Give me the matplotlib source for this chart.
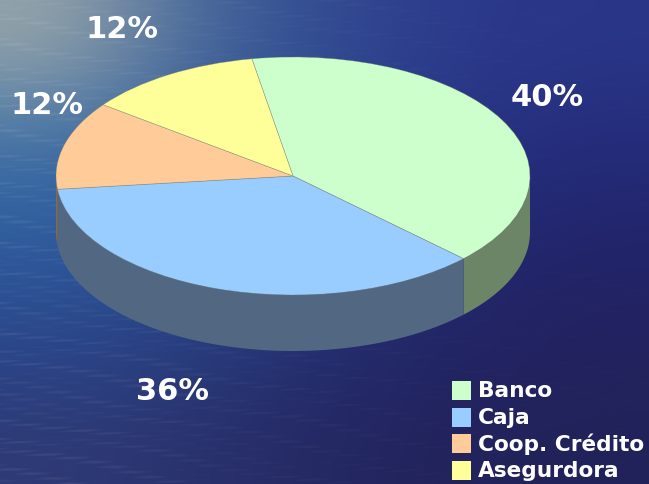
import numpy as np
import matplotlib
matplotlib.use("Agg")
import matplotlib.pyplot as plt
from matplotlib.patches import Polygon, Rectangle

labels = ["Banco", "Caja", "Coop. Crédito", "Asegurdora"]
values = [40, 36, 12, 12]
colors = ["#CCFFCC", "#99CCFF", "#FFCC99", "#FFFF99"]
wall_colors = ["#6B8566", "#526882", "#8A6A45", "#66663D"]

W, H = 649, 484
FONT = "DejaVu Sans"

# rough colours of the sea backdrop, rows run top to bottom
backdrop = np.array([
    [[150, 165, 170], [70, 105, 155], [50, 75, 145], [44, 58, 140], [42, 54, 136]],
    [[62, 112, 165], [52, 92, 155], [44, 68, 142], [38, 50, 130], [36, 44, 122]],
    [[46, 92, 158], [42, 76, 148], [38, 58, 130], [34, 40, 112], [34, 36, 106]],
    [[42, 72, 140], [40, 62, 128], [36, 46, 112], [34, 36, 100], [34, 34, 96]],
    [[46, 58, 118], [42, 50, 108], [36, 40, 98], [34, 34, 92], [34, 34, 90]],
], dtype=float) / 255

fig = plt.figure(figsize=(W / 100, H / 100), dpi=100)

# pixel axes for the backdrop, texts and legend
bg = fig.add_axes([0, 0, 1, 1])
bg.imshow(backdrop, extent=(0, W, H, 0), aspect="auto", interpolation="bicubic")

# faint short streaks on the water, stronger towards the left
yy, xx = np.mgrid[0:H, 0:W]
ripple = (np.sin(yy * 0.83 + 2 * np.sin(xx * 0.013 + yy * 0.07))
          * np.sin(xx * 0.071 + yy * 0.37) * np.sin(xx * 0.023 - yy * 0.11))
strength = 0.012 + 0.07 * (1 - xx / W) ** 2
overlay = np.ones((H, W, 4))
overlay[..., 3] = np.clip(ripple, 0, 1) * strength
bg.imshow(overlay, extent=(0, W, H, 0), aspect="auto", interpolation="bilinear")

bg.set_xlim(0, W)
bg.set_ylim(H, 0)
bg.axis("off")

# pie axes, stretched so the unit circle turns into the flattened top
ax = fig.add_axes([56 / W, 1 - 295 / H, 474 / W, 238 / H])
ax.patch.set_alpha(0)
depth = 56 / 119
start = 100

# side wall, only the front half (angles below zero) can be seen
edges = start - np.cumsum([0] + values) * 3.6
for i in range(len(values)):
    a0 = max(edges[i + 1], -180)
    a1 = min(edges[i], 0)
    if a1 <= a0:
        continue
    t = np.radians(np.linspace(a0, a1, 80))
    x, y = np.cos(t), np.sin(t)
    pts = np.r_[np.c_[x, y], np.c_[x, y - depth][::-1]]
    ax.add_patch(Polygon(pts, closed=True, fc=wall_colors[i], ec="none", clip_on=False))

ax.pie(values, colors=colors, startangle=start, counterclock=False, radius=1,
       wedgeprops={"linewidth": 0.5, "edgecolor": (0.45, 0.5, 0.4, 0.45)})
ax.set_aspect("auto")
ax.set_xlim(-1, 1)
ax.set_ylim(-1, 1)
ax.axis("off")

# percent labels
label_pos = [(547, 97), (173, 391), (47, 105), (122, 29)]
for v, (px, py) in zip(values, label_pos):
    bg.text(px, py, f"{v}%", color="white", fontsize=22, fontweight="bold",
            family=FONT, ha="center", va="center")

# legend
swatch_y = [381, 408, 434, 461]
for name, c, sy in zip(labels, colors, swatch_y):
    bg.add_patch(Rectangle((452, sy), 19, 19, fc=c, ec="none"))
    bg.text(478, sy + 10, name, color="white", fontsize=15.6, fontweight="bold",
            family=FONT, ha="left", va="center", clip_on=True)

fig.savefig("out.png", dpi=100)
